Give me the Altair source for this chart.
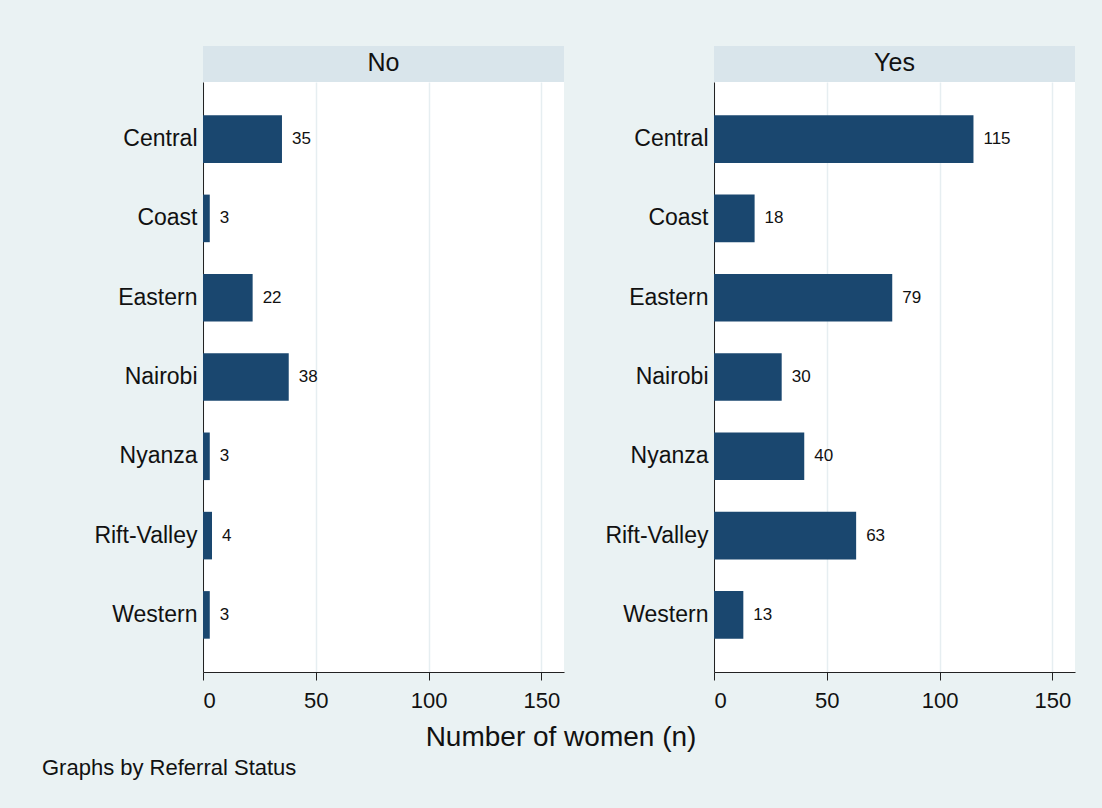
import altair as alt
import pandas as pd

regions = ["Central", "Coast", "Eastern", "Nairobi", "Nyanza", "Rift-Valley", "Western"]
no_values = [35, 3, 22, 38, 3, 4, 3]
yes_values = [115, 18, 79, 30, 40, 63, 13]
panels = ["No", "Yes"]
x_ticks = [0, 50, 100, 150]
x_title = "Number of women (n)"
note = "Graphs by Referral Status"

FONT = "Liberation Sans"
BG = "#EAF2F3"
HEADER = "#D9E5EB"
BAR = "#1A476F"
W, H = 361, 590
HEAD_H = 36


def panel(name, values, extra=None):
    df = pd.DataFrame({"region": regions, "n": values})
    x = alt.X("n:Q", scale=alt.Scale(domain=[0, 160], nice=False),
              axis=alt.Axis(values=x_ticks, title=None, grid=True, gridColor="#E6EEF1",
                            gridWidth=1.5, domainColor="#222222", tickColor="#222222",
                            tickSize=8, labelFontSize=22, labelPadding=10,
                            labelColor="#111111", labelFont=FONT))
    y = alt.Y("region:N", sort=regions,
              scale=alt.Scale(paddingInner=0.4, paddingOuter=0.42),
              axis=alt.Axis(title=None, ticks=False, grid=False, domainColor="#222222",
                            labelFontSize=23, labelPadding=6, labelColor="#111111",
                            labelFont=FONT))
    base = alt.Chart(df)
    bars = base.mark_bar(color=BAR).encode(x=x, y=y)
    labels = base.mark_text(align="left", baseline="middle", dx=10, fontSize=17,
                            font=FONT, color="#111111").encode(x="n:Q", y=alt.Y("region:N", sort=regions), text="n:Q")
    hdf = pd.DataFrame({"label": [name]})
    head_rect = alt.Chart(hdf).mark_rect(color=HEADER).encode(
        x=alt.value(0), x2=alt.value(W), y=alt.value(-HEAD_H), y2=alt.value(0))
    head_text = alt.Chart(hdf).mark_text(fontSize=25, font=FONT, color="#111111",
                                         baseline="middle", align="center").encode(
        x=alt.value(W / 2), y=alt.value(-HEAD_H / 2 - 1), text="label:N")
    layers = [head_rect, head_text, bars, labels]
    if extra:
        layers += extra
    return alt.layer(*layers).properties(width=W, height=H)


tdf = pd.DataFrame({"t": [x_title]})
ndf = pd.DataFrame({"t": [note]})
title_text = alt.Chart(tdf).mark_text(fontSize=28, font=FONT, color="#111111",
                                      align="center", baseline="middle").encode(
    x=alt.value(358), y=alt.value(656), text="t:N")
note_text = alt.Chart(ndf).mark_text(fontSize=22, font=FONT, color="#111111",
                                     align="left", baseline="middle").encode(
    x=alt.value(-161), y=alt.value(686), text="t:N")

left = panel(panels[0], no_values, [title_text, note_text])
right = panel(panels[1], yes_values)

chart = alt.hconcat(left, right, spacing=150, bounds="flush").properties(
    background=BG,
    padding={"left": 42, "top": 46, "right": 27, "bottom": 29},
).configure_view(stroke=None, fill="white")

chart.save("out.html", embed_options={"renderer": "svg", "actions": False})
